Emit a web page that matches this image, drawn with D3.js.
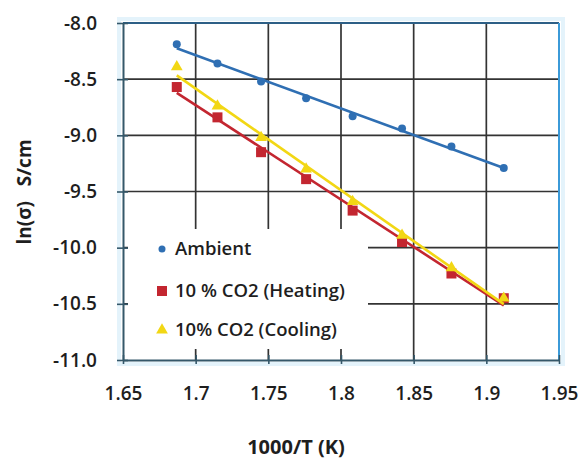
<!DOCTYPE html>
<html>
<head>
<meta charset="utf-8">
<script src="https://cdn.jsdelivr.net/npm/d3@7"></script>
<style>
  body { margin: 0; background: #fff; }
  text { font-family: "Open Sans", "Noto Sans", sans-serif; fill: #1e1e1e; }
</style>
</head>
<body>
<script>
// data
const xTicks = [1.65, 1.7, 1.75, 1.8, 1.85, 1.9, 1.95];
const yTicks = [-8.0, -8.5, -9.0, -9.5, -10.0, -10.5, -11.0];
const invT = [1.687, 1.715, 1.745, 1.776, 1.808, 1.842, 1.876, 1.912];
const ambient = [-8.19, -8.36, -8.52, -8.67, -8.83, -8.94, -9.10, -9.29];
const heating = [-8.57, -8.84, -9.15, -9.39, -9.67, -9.95, -10.23, -10.45];
const cooling = [-8.39, -8.74, -9.02, -9.30, -9.59, -9.89, -10.18, -10.45];
const seriesNames = ['Ambient', '10 % CO2 (Heating)', '10% CO2 (Cooling)'];
const seriesColors = ['#2f6fb3', '#c32630', '#f2d714'];

const width = 581, height = 459;
const plot = { left: 123, right: 559, top: 23, bottom: 360 };

const svg = d3.select('body').append('svg').attr('width', width).attr('height', height);

const x = d3.scaleLinear().domain([1.65, 1.95]).range([plot.left, plot.right]);
const y = d3.scaleLinear().domain([-11, -8]).range([plot.bottom, plot.top]);

// faint chart border glow
svg.append('rect')
  .attr('x', plot.left - 4).attr('y', plot.top - 4)
  .attr('width', plot.right - plot.left + 8).attr('height', plot.bottom - plot.top + 8)
  .attr('fill', 'none').attr('stroke', '#e4f3fb').attr('stroke-width', 4);

// gridlines
const grid = svg.append('g').attr('stroke', '#333').attr('stroke-width', 1.7);
grid.selectAll('.vg').data(xTicks.slice(1, -1)).enter().append('line')
  .attr('x1', d => x(d)).attr('x2', d => x(d))
  .attr('y1', plot.top).attr('y2', plot.bottom);
grid.selectAll('.hg').data(yTicks.slice(1, -1)).enter().append('line')
  .attr('y1', d => y(d)).attr('y2', d => y(d))
  .attr('x1', plot.left).attr('x2', plot.right);

// top and right border
svg.append('line').attr('x1', plot.left).attr('x2', plot.right)
  .attr('y1', plot.top).attr('y2', plot.top).attr('stroke', '#2d5f86').attr('stroke-width', 2);
svg.append('line').attr('x1', plot.right).attr('x2', plot.right)
  .attr('y1', plot.top).attr('y2', plot.bottom).attr('stroke', '#3b9ad8').attr('stroke-width', 2);

// legend box (covers gridlines)
const legend = svg.append('g');
legend.append('rect').attr('x', 128).attr('y', 229).attr('width', 240).attr('height', 120).attr('fill', '#fff');

// axes
const xAxis = svg.append('g').attr('transform', `translate(0,${plot.bottom})`)
  .call(d3.axisBottom(x).tickValues(xTicks).tickFormat(d3.format('')).tickSizeInner(6).tickSizeOuter(0).tickPadding(21));
const yAxis = svg.append('g').attr('transform', `translate(${plot.left},0)`)
  .call(d3.axisLeft(y).tickValues(yTicks).tickFormat(d3.format('.1f')).tickSizeInner(6).tickSizeOuter(0).tickPadding(20));

[xAxis, yAxis].forEach(a => {
  a.select('.domain').attr('stroke', '#35586a').attr('stroke-width', 2);
  a.selectAll('.tick line').attr('stroke', '#35586a').attr('stroke-width', 1.6);
  a.selectAll('text').style('font-size', '19px').style('font-weight', 600).attr('fill', '#1e1e1e');
});
// ticks cross the axis
xAxis.selectAll('.tick line').attr('y1', -5).attr('y2', 4);
yAxis.selectAll('.tick line').attr('x1', 5).attr('x2', -6);
yAxis.selectAll('text').text(d => d3.format('.1f')(d).replace('−', '-'));

// linear fit
function fit(xs, ys) {
  const mx = d3.mean(xs), my = d3.mean(ys);
  const b = d3.sum(xs, (v, i) => (v - mx) * (ys[i] - my)) / d3.sum(xs, v => (v - mx) ** 2);
  return v => my + b * (v - mx);
}

const allSeries = [ambient, heating, cooling];
const xr = d3.extent(invT);

allSeries.forEach((vals, k) => {
  const g = svg.append('g');
  const col = seriesColors[k];
  const pts = invT.map((t, i) => [t, vals[i]]);
  if (k === 0) {
    g.selectAll('circle').data(pts).enter().append('circle')
      .attr('cx', d => x(d[0])).attr('cy', d => y(d[1])).attr('r', 4).attr('fill', col);
  } else if (k === 1) {
    g.selectAll('rect').data(pts).enter().append('rect')
      .attr('x', d => x(d[0]) - 5).attr('y', d => y(d[1]) - 5)
      .attr('width', 10).attr('height', 10).attr('fill', col);
  } else {
    g.selectAll('path').data(pts).enter().append('path')
      .attr('d', d3.symbol(d3.symbolTriangle, 60))
      .attr('transform', d => `translate(${x(d[0])},${y(d[1])})`).attr('fill', col);
  }
  const f = fit(invT, vals);
  g.append('line')
    .attr('x1', x(xr[0])).attr('y1', y(f(xr[0])))
    .attr('x2', x(xr[1])).attr('y2', y(f(xr[1])))
    .attr('stroke', col).attr('stroke-width', 2.6);
});

// legend entries
const ly = [249, 291, 330];
legend.append('circle').attr('cx', 162).attr('cy', ly[0]).attr('r', 3.5).attr('fill', seriesColors[0]);
legend.append('rect').attr('x', 157).attr('y', ly[1] - 5).attr('width', 10).attr('height', 10).attr('fill', seriesColors[1]);
legend.append('path').attr('d', d3.symbol(d3.symbolTriangle, 60))
  .attr('transform', `translate(162,${ly[2]})`).attr('fill', seriesColors[2]);
legend.selectAll('.lt').data(seriesNames).enter().append('text')
  .attr('x', 175).attr('y', (d, i) => ly[i]).attr('dy', '0.35em')
  .style('font-size', '18.5px').style('font-weight', 600).text(d => d);

// axis titles
svg.append('text').attr('x', 296).attr('y', 454).attr('text-anchor', 'middle')
  .style('font-size', '20px').style('font-weight', 'bold').text('1000/T (K)');
svg.append('text').attr('transform', 'translate(31,192) rotate(-90)').attr('text-anchor', 'middle')
  .style('font-size', '19px').style('font-weight', 'bold').style('white-space', 'pre').text('ln(σ)   S/cm');
</script>
</body>
</html>
